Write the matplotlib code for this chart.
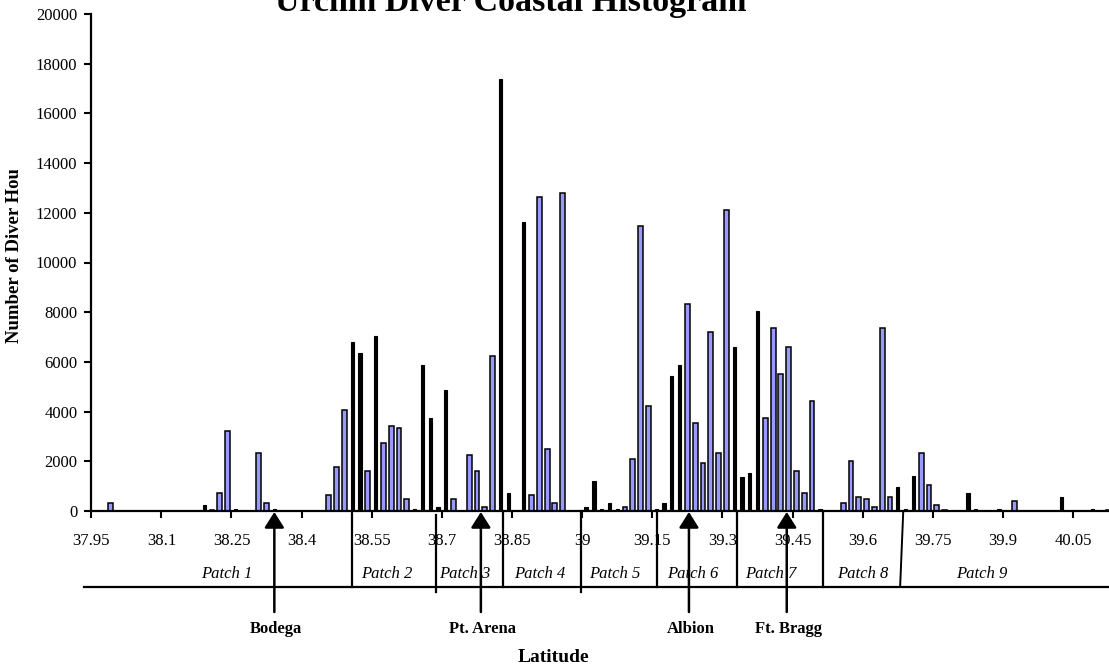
import matplotlib
matplotlib.use("Agg")
import matplotlib.pyplot as plt
from matplotlib import transforms
from matplotlib.transforms import Bbox, TransformedBbox

# bins are 1-minute latitude steps starting at 37.95
bins = [2, 14, 15, 16, 17, 18, 21, 22, 23, 30, 31, 32, 33, 34, 35, 36, 37, 38, 39, 40,
        41, 42, 43, 44, 45, 46, 48, 49, 50, 51, 52, 53, 55, 56, 57, 58, 59, 60, 63, 64,
        65, 66, 67, 68, 69, 70, 71, 72, 73, 74, 75, 76, 77, 78, 79, 80, 81, 82, 83, 84,
        85, 86, 87, 88, 89, 90, 91, 92, 93, 96, 97, 98, 99, 100, 101, 102, 103, 104, 105, 106,
        107, 108, 109, 112, 113, 116, 118, 124, 128, 130]
hours = [330, 250, 50, 730, 3200, 90, 2330, 330, 90, 650, 1770, 4080, 6810, 6350, 1610, 7050, 2730, 3440, 3350, 490,
         90, 5860, 3760, 170, 4880, 490, 2250, 1610, 170, 6250, 17400, 730, 11620, 650, 12650, 2490, 330, 12810, 170, 1210,
         90, 330, 90, 170, 2090, 11460, 4240, 90, 330, 5450, 5860, 8340, 3530, 1930, 7210, 2330, 12110, 6580, 1370, 1530,
         8030, 3760, 7380, 5530, 6580, 1610, 730, 4410, 90, 330, 2010, 570, 490, 160, 7380, 560, 970, 90, 1390, 2330,
         1050, 250, 40, 730, 90, 90, 410, 570, 90, 40]
dark = [0, 1, 0, 0, 0, 1, 0, 0, 1, 0, 0, 0, 1, 1, 0, 1, 0, 0, 0, 0,
        1, 1, 1, 1, 1, 0, 0, 0, 0, 0, 1, 1, 1, 0, 0, 0, 0, 0, 1, 1,
        1, 1, 1, 0, 0, 0, 0, 1, 1, 1, 1, 0, 0, 0, 0, 0, 0, 1, 1, 1,
        1, 0, 0, 0, 0, 0, 0, 0, 1, 0, 0, 0, 0, 0, 0, 0, 1, 1, 1, 0,
        0, 0, 0, 1, 1, 1, 0, 1, 1, 0]

tick_labels = ["37.95", "38.1", "38.25", "38.4", "38.55", "38.7", "38.85", "39",
               "39.15", "39.3", "39.45", "39.6", "39.75", "39.9", "40.05"]

patch_names = ["Patch 1", "Patch 2", "Patch 3", "Patch 4", "Patch 5",
               "Patch 6", "Patch 7", "Patch 8", "Patch 9"]
patch_mid = [16.9, 37.45, 47.46, 57.09, 66.71, 76.71, 86.72, 98.52, 113.73]
patch_edges = [32.94, 43.79, 52.32, 62.30, 72.08, 82.37, 93.41, 103.5]

ports = ["Bodega", "Pt. Arena", "Albion", "Ft. Bragg"]
port_bin = [23.0, 49.5, 76.2, 88.75]

serif = "Liberation Serif"
W, H = 1109, 671
fig = plt.figure(figsize=(W / 100, H / 100), dpi=100)
ax = fig.add_axes([91.2 / W, 1 - 511 / H, (W - 91.2) / W, (511 - 14) / H])

for b, h, d in zip(bins, hours, dark):
    if d:
        ax.bar(b, h, width=0.42, color="black", edgecolor="black", linewidth=0.8)
    else:
        ax.bar(b, h, width=0.62, color="#9999ff", edgecolor="black", linewidth=1.1)

ax.set_xlim(-0.5, 130.1)
ax.set_ylim(0, 20000)
ax.set_yticks(range(0, 20001, 2000))
ax.set_yticklabels([str(v) for v in range(0, 20001, 2000)], fontsize=12, family=serif)
ax.set_xticks([9 * k - 0.5 for k in range(len(tick_labels))])
ax.set_xticklabels(tick_labels, fontsize=12, family=serif)
ax.tick_params(direction="out", length=5, width=1.5, pad=5)
ax.tick_params(axis="x", pad=11)
ax.spines["top"].set_visible(False)
ax.spines["right"].set_visible(False)
ax.spines["left"].set_linewidth(1.6)
ax.spines["bottom"].set_linewidth(1.6)

# stuff under the axis: patches, ports
blend = transforms.blended_transform_factory(ax.transData, fig.transFigure)
fy = lambda py: 1 - py / H

line_y = fy(586.5)
ax.plot([-1.4, 131], [line_y, line_y], transform=blend, color="black", lw=1.6, clip_on=False)
for i, e in enumerate(patch_edges):
    bottom = fy(592) if i in (1, 3) else line_y
    top = fy(515) if i == 1 else fy(511)
    if i == len(patch_edges) - 1:
        ax.plot([e + 0.2, e - 0.2], [top, bottom], transform=blend, color="black", lw=1.4, clip_on=False)
    else:
        ax.plot([e, e], [top, bottom], transform=blend, color="black", lw=1.6, clip_on=False)
for name, m in zip(patch_names, patch_mid):
    ax.text(m, fy(574), name, transform=blend, ha="center", va="center",
            fontsize=12, style="italic", family=serif)

for name, b in zip(ports, port_bin):
    ax.annotate("", xy=(b, fy(512)), xytext=(b, fy(612)), xycoords=blend, textcoords=blend,
                arrowprops=dict(arrowstyle="-|>,head_width=0.6,head_length=0.95",
                                mutation_scale=10, lw=1.8, color="black",
                                shrinkA=0, shrinkB=0))
    ax.text(b + 0.25, fy(629), name, transform=blend, ha="center", va="center",
            fontsize=12, weight="bold", family=serif)

fig.text(553 / W, fy(657), "Latitude", ha="center", va="center",
         fontsize=14, weight="bold", family=serif)

fig.text(511 / W, fy(11), "Urchin Diver Coastal Histogram", ha="center", va="baseline",
         fontsize=24.5, weight="bold", family=serif)

# the y title is cut short in the original, clip it the same way
ylab = fig.text(15 / W, fy(343), "Number of Diver Hours", rotation=90, ha="center",
                va="bottom", fontsize=13.5, weight="bold", family=serif)
ylab.set_clip_box(TransformedBbox(Bbox([[0, 0], [0.06, fy(170)]]), fig.transFigure))
ylab.set_clip_on(True)

fig.savefig("out.png", dpi=100)
